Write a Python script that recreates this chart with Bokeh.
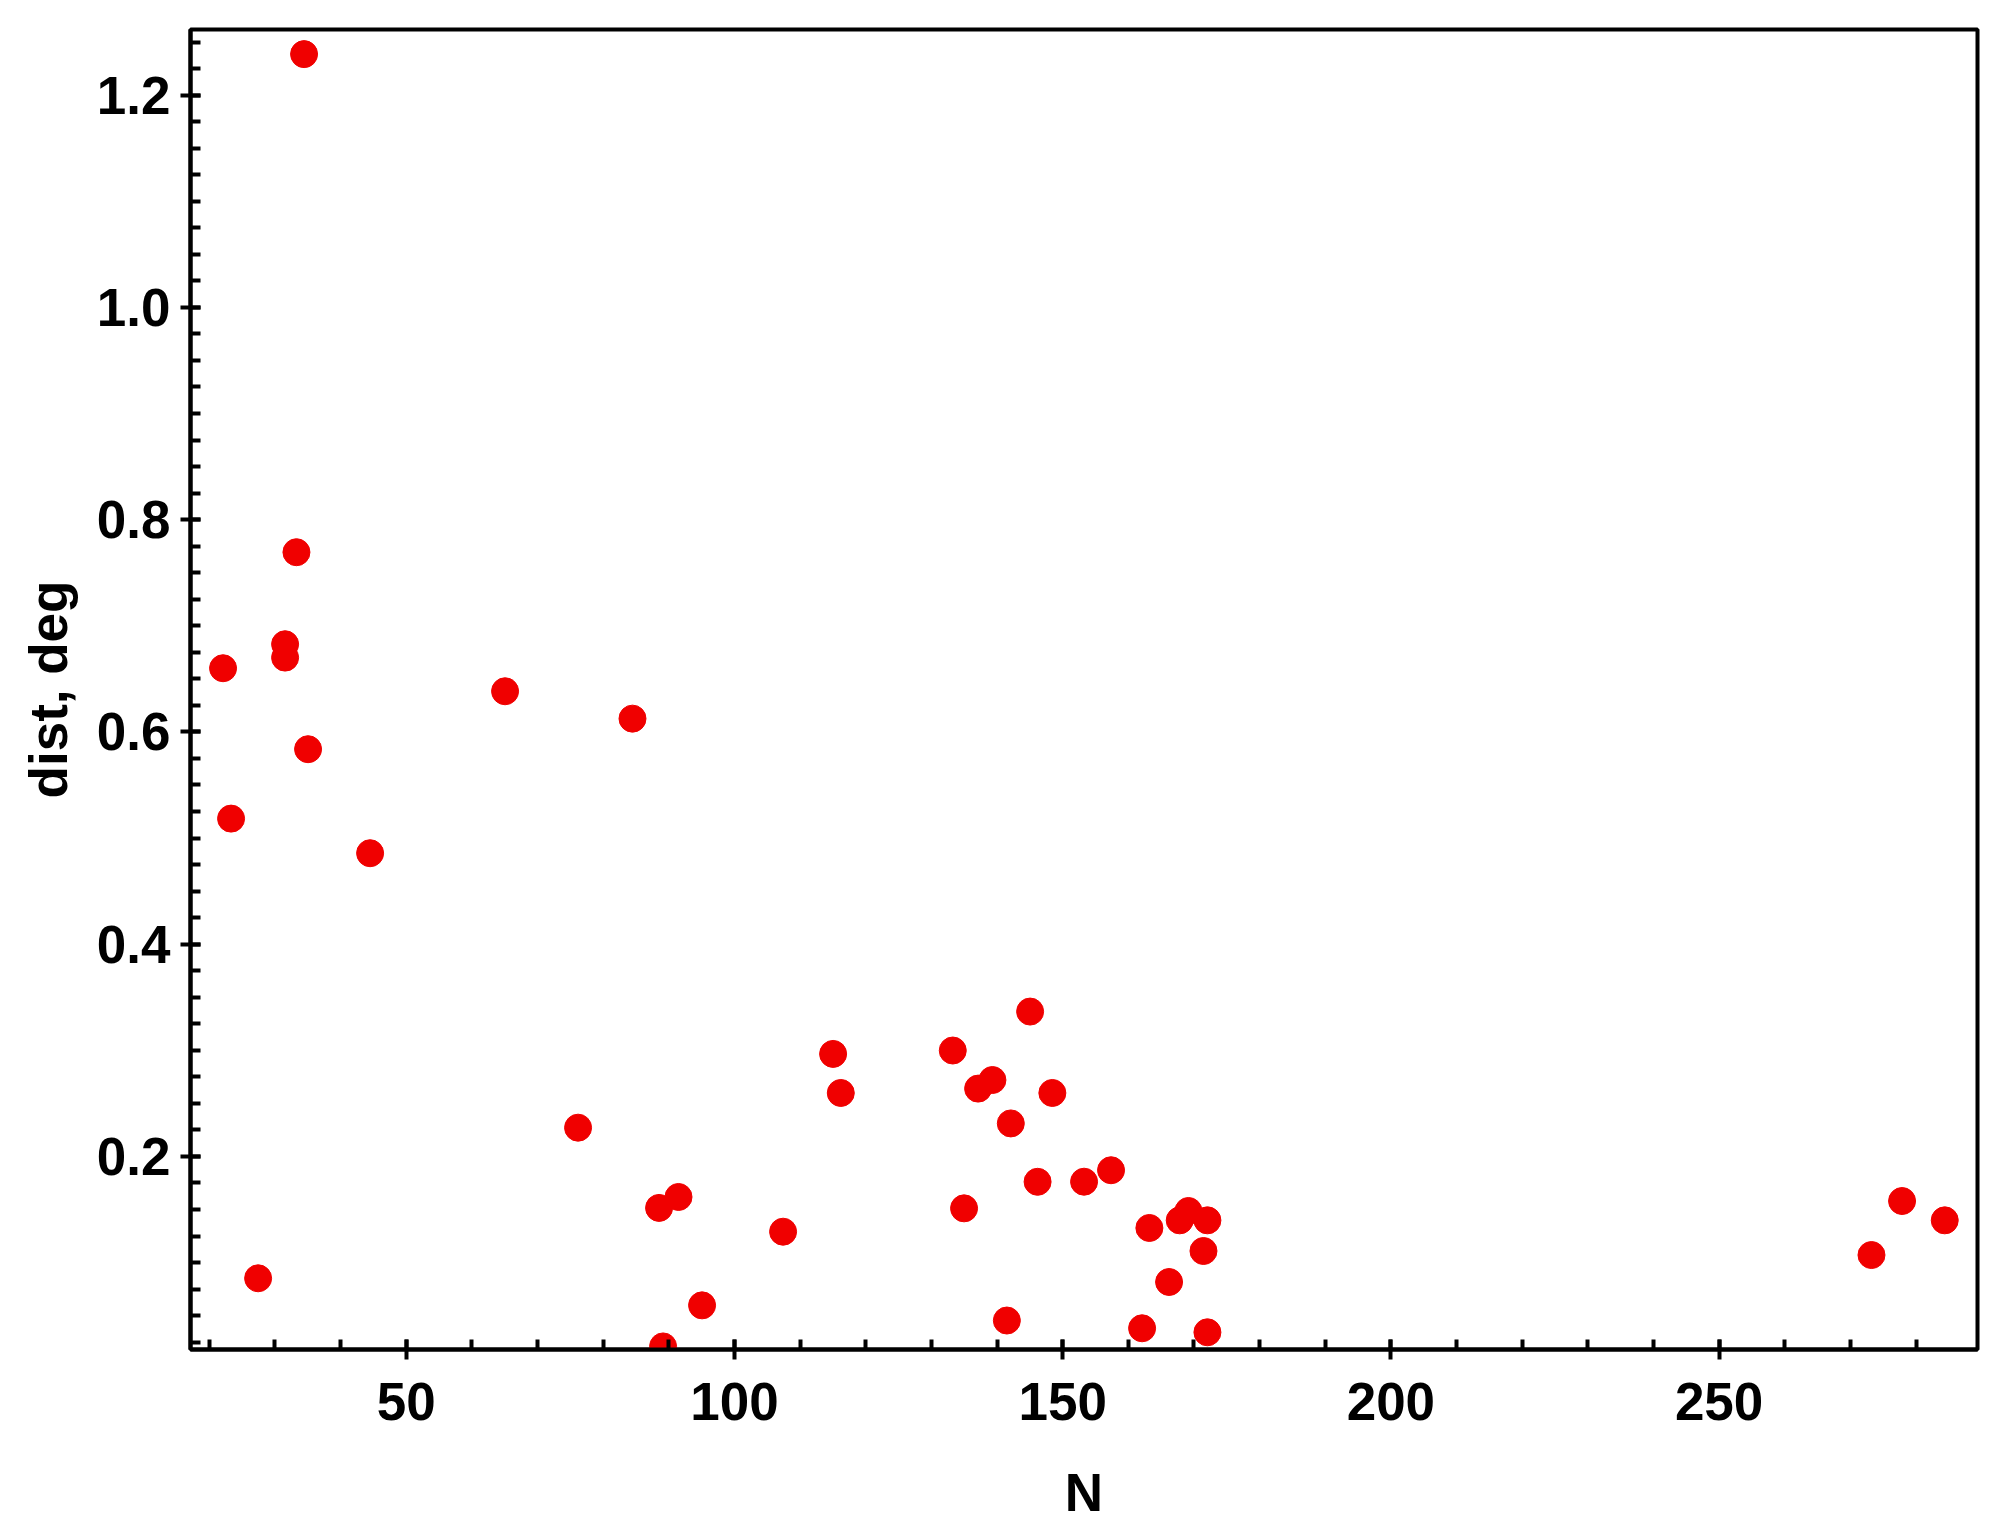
from bokeh.plotting import figure
from bokeh.models import SingleIntervalTicker, PrintfTickFormatter, Range1d
from bokeh.embed import file_html
from bokeh.resources import INLINE

# data
n_vals = [34.44, 22.10, 23.32, 27.44, 31.55, 31.55, 33.28, 35.05, 44.50, 65.06,
          76.18, 84.47, 88.52, 91.48, 89.13, 95.07, 107.41, 115.03, 116.2, 133.26,
          134.98, 137.12, 139.3, 142.1, 141.50, 145.04, 146.18, 148.43, 153.26, 157.37,
          163.21, 167.83, 169.16, 172.05, 171.45, 166.21, 162.1, 172.05, 273.21, 277.87,
          284.37]
dist_vals = [1.2386, 0.660, 0.5183, 0.0852, 0.6826, 0.670, 0.7693, 0.5837, 0.4857, 0.6383,
             0.2271, 0.6125, 0.1515, 0.1618, 0.021, 0.0597, 0.1291, 0.2966, 0.2598, 0.2998,
             0.1511, 0.2639, 0.2720, 0.2311, 0.0454, 0.3365, 0.1761, 0.2598, 0.1762, 0.1870,
             0.1326, 0.1398, 0.1486, 0.1398, 0.1109, 0.0817, 0.0381, 0.0343, 0.1071, 0.1580,
             0.1398]
x_label = "N"
y_label = "dist, deg"

FONT = "Liberation Sans"
FS = "53px"

p = figure(width=1988, height=1524, output_backend="svg", toolbar_location=None,
           x_range=Range1d(17.14, 289.36), y_range=Range1d(0.0181, 1.2618),
           min_border_left=190, min_border_right=11, min_border_top=29, min_border_bottom=171)

p.background_fill_color = "white"
p.border_fill_color = "white"
p.outline_line_color = "black"
p.outline_line_width = 4
p.grid.visible = False

p.scatter(n_vals, dist_vals, size=27, color="#f00000", line_color="#f00000")

for ax in (p.xaxis[0], p.yaxis[0]):
    ax.axis_line_width = 4
    ax.axis_line_color = "black"
    ax.major_tick_line_width = 4
    ax.minor_tick_line_width = 4
    ax.major_tick_in = 10
    ax.major_tick_out = 10
    ax.minor_tick_in = 10
    ax.minor_tick_out = 0
    ax.major_label_text_font = FONT
    ax.major_label_text_font_size = FS
    ax.major_label_text_font_style = "bold"
    ax.major_label_text_color = "black"
    ax.axis_label_text_font = FONT
    ax.axis_label_text_font_size = FS
    ax.axis_label_text_font_style = "bold"
    ax.axis_label_text_color = "black"

p.xaxis[0].ticker = SingleIntervalTicker(interval=50, num_minor_ticks=5)
p.yaxis[0].ticker = SingleIntervalTicker(interval=0.2, num_minor_ticks=8)
p.xaxis[0].formatter = PrintfTickFormatter(format="%d")
p.yaxis[0].formatter = PrintfTickFormatter(format="%.1f")
p.xaxis[0].axis_label = x_label
p.yaxis[0].axis_label = y_label
p.xaxis[0].major_label_standoff = 23
p.yaxis[0].major_label_standoff = 10
p.xaxis[0].axis_label_standoff = 40
p.yaxis[0].axis_label_standoff = 16

open("out.html", "w").write(file_html(p, INLINE))
